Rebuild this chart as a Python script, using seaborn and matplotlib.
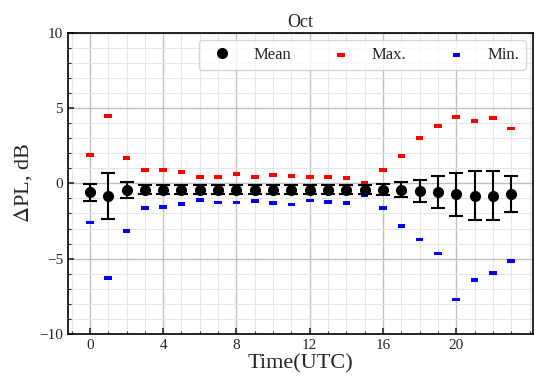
import numpy as np
import pandas as pd
import matplotlib
matplotlib.use('Agg')
import matplotlib.pyplot as plt
import seaborn as sns
from matplotlib.ticker import MultipleLocator, FixedLocator

hours = list(range(24))
mean_vals = [-0.59, -0.83, -0.45, -0.43, -0.43, -0.43, -0.43, -0.43, -0.43, -0.43,
             -0.43, -0.43, -0.43, -0.43, -0.43, -0.43, -0.43, -0.43, -0.50, -0.59,
             -0.72, -0.81, -0.81, -0.70]
err_vals = [0.58, 1.52, 0.52, 0.30, 0.30, 0.30, 0.30, 0.30, 0.30, 0.30,
            0.30, 0.30, 0.30, 0.30, 0.30, 0.30, 0.36, 0.50, 0.72, 1.05,
            1.42, 1.60, 1.60, 1.22]
max_vals = [1.87, 4.46, 1.71, 0.90, 0.90, 0.78, 0.45, 0.45, 0.61, 0.45,
            0.54, 0.50, 0.45, 0.45, 0.37, 0.03, 0.87, 1.81, 3.00, 3.80,
            4.42, 4.17, 4.35, 3.64]
min_vals = [-2.60, -6.30, -3.18, -1.61, -1.58, -1.36, -1.12, -1.27, -1.27, -1.18,
            -1.29, -1.40, -1.14, -1.25, -1.29, -0.76, -1.61, -2.85, -3.73, -4.66,
            -7.72, -6.43, -5.93, -5.15]
xtick_vals = [0, 4, 8, 12, 16, 20]

df = pd.DataFrame({'hour': hours, 'mean': mean_vals, 'err': err_vals,
                   'max': max_vals, 'min': min_vals})

sns.set_style('ticks')
plt.rcParams['font.family'] = ['Liberation Serif', 'DejaVu Serif']
plt.rcParams['mathtext.fontset'] = 'stix'

fig, ax = plt.subplots(figsize=(5.43, 3.91), dpi=100)
fig.subplots_adjust(left=0.125, right=0.982, bottom=0.146, top=0.916)

# flat rectangle marker for max/min
rect = [(-1, -0.5), (1, -0.5), (1, 0.5), (-1, 0.5), (-1, -0.5)]

eb = ax.errorbar(df['hour'], df['mean'], yerr=df['err'], fmt='o', color='black',
                 ms=7, elinewidth=1.5, capsize=5, capthick=1.5, zorder=4)
sns.scatterplot(data=df, x='hour', y='max', marker=rect, s=30, color='red',
                edgecolor='none', label='Max.', ax=ax, zorder=3)
sns.scatterplot(data=df, x='hour', y='min', marker=rect, s=30, color='blue',
                edgecolor='none', label='Min.', ax=ax, zorder=3)

ax.set_xlim(-1.2, 24.2)
ax.set_ylim(-10, 10)
ax.xaxis.set_major_locator(FixedLocator(xtick_vals))
ax.xaxis.set_minor_locator(MultipleLocator(1))
ax.yaxis.set_major_locator(MultipleLocator(5))
ax.yaxis.set_minor_locator(MultipleLocator(1))
ax.grid(which='major', color='#c0c0c0', lw=1.0)
ax.grid(which='minor', color='#e6e6e6', lw=0.8)
ax.set_axisbelow(True)
ax.tick_params(which='both', direction='in', labelsize=11)
ax.tick_params(which='major', length=4, width=1.2)
ax.tick_params(which='minor', length=2.5, width=0.8)
for sp in ax.spines.values():
    sp.set_linewidth(1.2)
    sp.set_color('black')

ax.set_xlabel('Time(UTC)', fontsize=16, labelpad=2)
ax.set_ylabel(r'$\Delta$PL, dB', fontsize=16, labelpad=4)
ax.set_title('Oct', fontsize=13, pad=4)

handles, labels = ax.get_legend_handles_labels()
handles = [eb.lines[0]] + [h for h, l in zip(handles, labels) if l in ('Max.', 'Min.')]
labels = ['Mean', 'Max.', 'Min.']
ax.legend(handles, labels, loc='upper right', ncol=3, fontsize=12, frameon=True,
          fancybox=True, handletextpad=0.85, columnspacing=2.0, borderaxespad=0.45)

plt.savefig('out.png', dpi=100)
